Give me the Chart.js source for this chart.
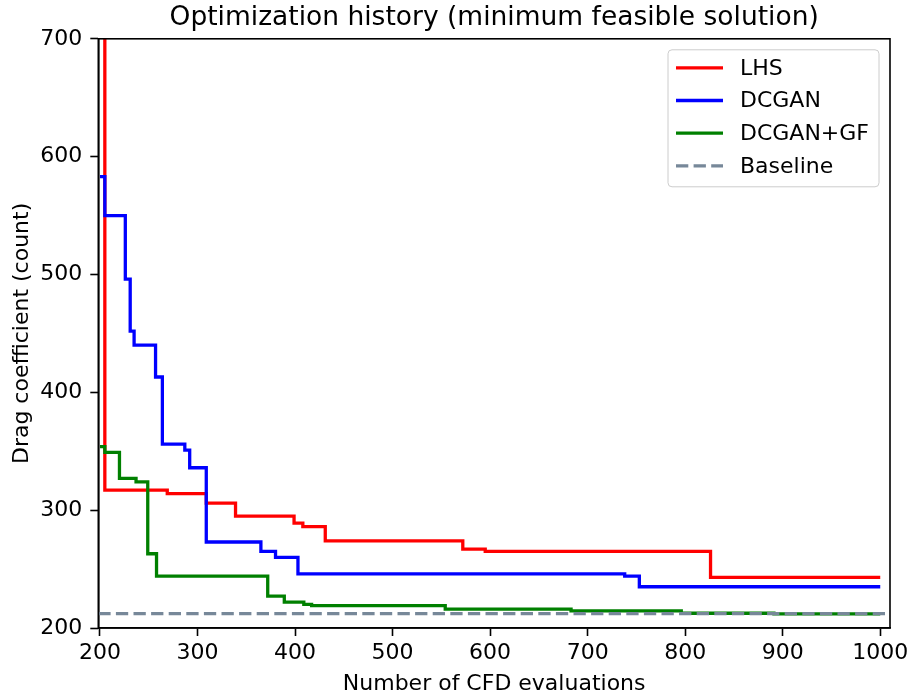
<!DOCTYPE html>
<html>
<head>
<meta charset="utf-8">
<script src="https://cdn.jsdelivr.net/npm/chart.js@4/dist/chart.umd.min.js"></script>
<style>
  body { margin: 0; background: #fff; }
</style>
</head>
<body>
<canvas id="myChart" width="909" height="697"></canvas>
<script>
// Best feasible drag coefficient so far, at the evaluations where it changes
const lhsX = [200, 205, 269, 309, 339, 399, 408, 431, 572, 595, 826, 1000];
const lhsY = [910, 317, 314, 306, 295, 289, 286, 274, 267, 265, 243, 243];

const dcganX = [200, 205, 226, 231, 235, 257, 264, 287, 292, 309, 365, 380, 403, 738, 753, 1000];
const dcganY = [583, 550, 496, 452, 440, 413, 356, 351, 336, 273, 265, 260, 246, 244, 235, 235];

const gfX = [200, 205, 220, 237, 249, 258, 372, 389, 409, 417, 554, 683, 796, 891, 1000];
const gfY = [354, 349, 327, 324, 263, 244, 227, 222, 220, 219, 216, 214.5, 212.5, 212, 212];

const baselineX = [198.3, 1010];
const baselineY = [212.2, 212.2];

const xTicks = [200, 300, 400, 500, 600, 700, 800, 900, 1000];
const yTicks = [200, 300, 400, 500, 600, 700];

const FONT = "'DejaVu Sans', sans-serif";
const LW = 3.3;

function points(xs, ys) {
  return xs.map((x, i) => ({ x: x, y: ys[i] }));
}

// matplotlib-like frame around the axes
const framePlugin = {
  id: "frame",
  afterDatasetsDraw(chart) {
    const a = chart.chartArea;
    const ctx = chart.ctx;
    ctx.save();
    ctx.strokeStyle = "#000";
    ctx.lineWidth = 1.6;
    ctx.strokeRect(a.left, a.top, a.right - a.left, a.bottom - a.top);
    ctx.restore();
  },
};

// legend box inside the upper right corner
const legendPlugin = {
  id: "innerLegend",
  afterDraw(chart) {
    const a = chart.chartArea;
    const ctx = chart.ctx;
    const w = 211, h = 137;
    const x0 = a.right - 11 - w, y0 = a.top + 11;
    ctx.save();
    ctx.beginPath();
    ctx.roundRect(x0, y0, w, h, 4);
    ctx.fillStyle = "rgba(255,255,255,0.8)";
    ctx.fill();
    ctx.strokeStyle = "#cccccc";
    ctx.lineWidth = 1;
    ctx.stroke();
    ctx.font = "22px " + FONT;
    ctx.textBaseline = "middle";
    ctx.fillStyle = "#000";
    chart.data.datasets.forEach((ds, i) => {
      const y = y0 + 18 + i * 32.7;
      ctx.beginPath();
      ctx.strokeStyle = ds.borderColor;
      ctx.lineWidth = ds.borderWidth;
      ctx.setLineDash(ds.borderDash || []);
      ctx.moveTo(x0 + 8, y);
      ctx.lineTo(x0 + 55, y);
      ctx.stroke();
      ctx.setLineDash([]);
      ctx.fillText(ds.label, x0 + 72, y + 1);
    });
    ctx.restore();
  },
};

const ctx = document.getElementById("myChart").getContext("2d");
const myChart = new Chart(ctx, {
  type: "line",
  data: {
    datasets: [
      {
        label: "LHS",
        data: points(lhsX, lhsY),
        borderColor: "#ff0000",
        borderWidth: LW,
        stepped: true,
        pointRadius: 0,
        order: 3,
      },
      {
        label: "DCGAN",
        data: points(dcganX, dcganY),
        borderColor: "#0000ff",
        borderWidth: LW,
        stepped: true,
        pointRadius: 0,
        order: 2,
      },
      {
        label: "DCGAN+GF",
        data: points(gfX, gfY),
        borderColor: "#008000",
        borderWidth: LW,
        stepped: true,
        pointRadius: 0,
        order: 1,
      },
      {
        label: "Baseline",
        data: points(baselineX, baselineY),
        borderColor: "#778899",
        borderWidth: LW,
        borderDash: [12.3, 5.3],
        pointRadius: 0,
        order: 0,
      },
    ],
  },
  options: {
    responsive: false,
    animation: false,
    devicePixelRatio: 1,
    layout: { padding: { left: 0, right: 19, top: 0, bottom: 0 } },
    plugins: {
      legend: { display: false },
      tooltip: { enabled: false },
      title: {
        display: true,
        fullSize: false,
        text: "Optimization history (minimum feasible solution)",
        color: "#000",
        font: { family: FONT, size: 26.5, weight: "normal" },
        padding: { top: 2, bottom: 5 },
      },
    },
    scales: {
      x: {
        type: "linear",
        min: 198.3,
        max: 1010,
        afterFit: (s) => { s.height = 69; s.paddingLeft = 0; s.paddingRight = 0; },
        afterBuildTicks: (s) => { s.ticks = xTicks.map((v) => ({ value: v })); },
        ticks: {
          includeBounds: false,
          color: "#000",
          font: { family: FONT, size: 22 },
          padding: 4,
          maxRotation: 0,
          callback: (v) => String(v),
        },
        grid: {
          drawOnChartArea: false,
          drawTicks: true,
          tickLength: 8,
          tickColor: "#000",
          tickWidth: 1.6,
        },
        border: { display: true, color: "#000", width: 1.6 },
        title: {
          display: true,
          text: "Number of CFD evaluations",
          color: "#000",
          font: { family: FONT, size: 22 },
          padding: { top: 0, bottom: 0 },
        },
      },
      y: {
        min: 200,
        max: 700,
        afterFit: (s) => { s.width = 98.3; s.paddingTop = 0; s.paddingBottom = 0; },
        afterBuildTicks: (s) => { s.ticks = yTicks.map((v) => ({ value: v })); },
        ticks: {
          color: "#000",
          font: { family: FONT, size: 22 },
          padding: 8,
          callback: (v) => String(v),
        },
        grid: {
          drawOnChartArea: false,
          drawTicks: true,
          tickLength: 8,
          tickColor: "#000",
          tickWidth: 1.6,
        },
        border: { display: true, color: "#000", width: 1.6 },
        title: {
          display: true,
          text: "Drag coefficient (count)",
          color: "#000",
          font: { family: FONT, size: 22 },
          padding: { top: 9, bottom: 0 },
        },
      },
    },
  },
  plugins: [framePlugin, legendPlugin],
});
</script>
</body>
</html>
